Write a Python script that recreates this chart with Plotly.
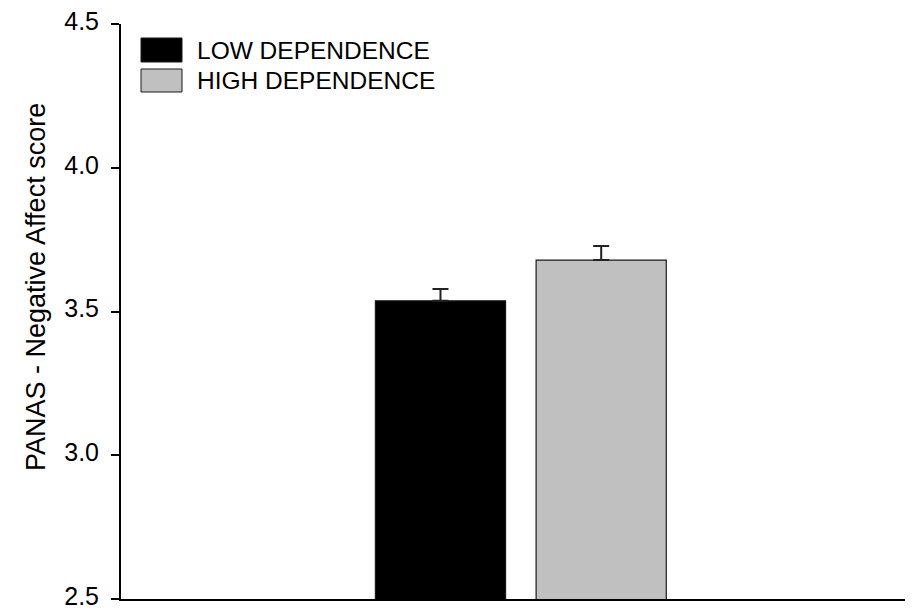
import plotly.graph_objects as go

# Group means and standard errors of the PANAS negative-affect score
groups = ["LOW DEPENDENCE", "HIGH DEPENDENCE"]
means = [3.537, 3.679]
sems = [0.041, 0.049]
fill_colors = ["#000000", "#C0C0C0"]

y_ticks = [2.5, 3.0, 3.5, 4.0, 4.5]
y_tick_text = ["2.5", "3.0", "3.5", "4.0", "4.5"]
y_title = "PANAS - Negative Affect score"

FONT = "Liberation Sans, Arial, sans-serif"

fig = go.Figure()
for name, m, e, c in zip(groups, means, sems, fill_colors):
    fig.add_trace(go.Bar(
        x=[0], y=[m], name=name,
        marker=dict(color=c, line=dict(color="#1a1a1a", width=1.2)),
        error_y=dict(type="data", array=[e], arrayminus=[0], symmetric=False,
                     color="#222222", thickness=2, width=8),
        showlegend=False,
    ))

W, H = 912, 610
L, R, T, B = 121, 7, 24, 11
pw, ph = W - L - R, H - T - B


def px_x(p):
    return (p - L) / pw


def px_y(p):
    return (H - B - p) / ph


# Hand-drawn legend: swatches plus labels
shapes = []
annotations = []
legend_rows = [(38, 62), (69, 92)]
for (y0, y1), name, c in zip(legend_rows, groups, fill_colors):
    shapes.append(dict(type="rect", xref="paper", yref="paper",
                       x0=px_x(141), x1=px_x(182), y0=px_y(y1), y1=px_y(y0),
                       fillcolor=c, line=dict(color="#1a1a1a", width=1)))
    annotations.append(dict(xref="paper", yref="paper", x=px_x(195),
                            y=px_y((y0 + y1) / 2), text=name, showarrow=False,
                            xanchor="left", yanchor="middle",
                            font=dict(family=FONT, size=24.5, color="#000000")))

# Y-axis title, placed as a rotated annotation
annotations.append(dict(xref="paper", yref="paper", x=px_x(36), y=px_y(287),
                        text=y_title, textangle=-90, showarrow=False,
                        xanchor="center", yanchor="middle",
                        font=dict(family=FONT, size=27, color="#000000")))

fig.update_layout(
    width=W, height=H,
    margin=dict(l=L, r=R, t=T, b=B, pad=0, autoexpand=False),
    paper_bgcolor="white", plot_bgcolor="white",
    barmode="group", bargap=0.59, bargroupgap=0.19,
    shapes=shapes, annotations=annotations,
    font=dict(family=FONT, color="#000000"),
    xaxis=dict(type="linear", range=[-0.51, 0.49], showticklabels=False,
               ticks="", showgrid=False, zeroline=False, automargin=False,
               showline=True, linecolor="#000000", linewidth=2),
    yaxis=dict(range=[2.5, 4.5], tickvals=y_ticks, ticktext=y_tick_text,
               ticks="outside", ticklen=8, tickwidth=2, tickcolor="#000000",
               ticklabelstandoff=7, ticklabelshift=-3,
               ticklabeloverflow="allow", automargin=False,
               showgrid=False, zeroline=False,
               showline=True, linecolor="#000000", linewidth=2,
               tickfont=dict(family=FONT, size=25)),
)

fig.write_html("out.html")
